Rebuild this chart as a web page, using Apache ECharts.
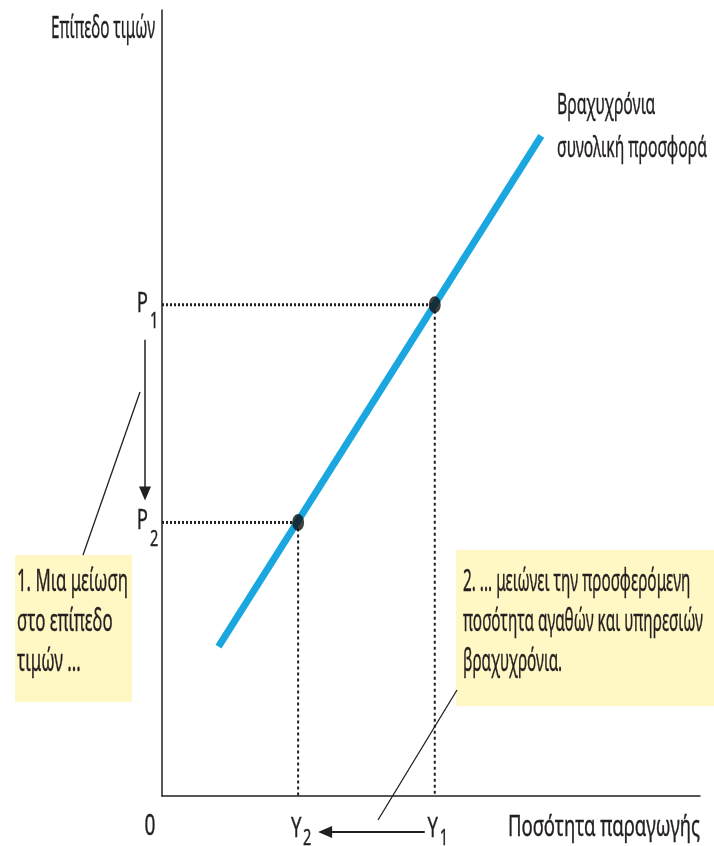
<!DOCTYPE html>
<html>
<head>
<meta charset="utf-8">
<script src="https://cdn.jsdelivr.net/npm/echarts@6/dist/echarts.min.js"></script>
<style>
  html, body { margin: 0; background: #fff; }
  #chart { width: 714px; height: 846px; }
</style>
</head>
<body>
<div id="chart"></div>
<script>
// supply curve end points (quantity, price)
const supplyQ = [10.5, 70.5]
const supplyP = [19, 84]
// equilibrium points: index 0 -> P1/Y1, index 1 -> P2/Y2
const outputLevels = [50.7, 25.3]
const priceLevels = [62.5, 34.8]
const tickSubs = ['1', '2']

const yTitle = 'Επίπεδο τιμών'
const xTitle = 'Ποσότητα παραγωγής'
const curveLabel = ['Βραχυχρόνια', 'συνολική προσφορά']
const note1 = ['1. Μια μείωση', 'στο επίπεδο', 'τιμών ...']
const note2 = ['2. ... μειώνει την προσφερόμενη', 'ποσότητα αγαθών και υπηρεσιών', 'βραχυχρόνια.']

const FONT = '"Noto Sans", sans-serif'
const INK = '#231f20'
const BLUE = '#1aa7e0'
const NOTE_BG = '#fff8c4'

const chart = echarts.init(document.getElementById('chart'))

const guides = []
priceLevels.forEach((p, i) => {
  guides.push({
    type: 'line', silent: true, symbol: 'none',
    data: [[0, p], [outputLevels[i], p]],
    lineStyle: { color: INK, width: 3, type: [2, 2] }
  })
  guides.push({
    type: 'line', silent: true, symbol: 'none',
    data: [[outputLevels[i], p], [outputLevels[i], 0]],
    lineStyle: { color: INK, width: 2, type: [3, 3] }
  })
})

chart.setOption({
  animation: false,
  grid: { left: 162, right: 14, top: 10, bottom: 50 },
  xAxis: {
    type: 'value', min: 0, max: 100,
    splitLine: { show: false },
    axisTick: { show: false },
    axisLabel: { show: false },
    axisLine: { lineStyle: { color: INK, width: 1.5 } }
  },
  yAxis: {
    type: 'value', min: 0, max: 100,
    splitLine: { show: false },
    axisTick: { show: false },
    axisLabel: { show: false },
    axisLine: { lineStyle: { color: INK, width: 1.5 } }
  },
  series: [
    ...guides,
    {
      type: 'line', silent: true, symbol: 'none', z: 3,
      data: supplyQ.map((q, i) => [q, supplyP[i]]),
      lineStyle: { color: BLUE, width: 7, cap: 'butt' }
    },
    {
      type: 'scatter', silent: true, z: 4,
      symbolSize: [12, 17],
      itemStyle: { color: '#111' },
      data: outputLevels.map((q, i) => [q, priceLevels[i]])
    }
  ]
})

// horizontal squeeze so the text keeps the condensed look of the original
const measureCtx = document.createElement('canvas').getContext('2d')
function fitScale(lines, size, width) {
  measureCtx.font = size + 'px "Noto Sans"'
  const w = Math.max(...lines.map(l => measureCtx.measureText(l).width))
  return width / w
}

function txt(text, x, y, size, scaleX, align, vAlign, lineHeight) {
  return {
    type: 'text', x: x, y: y, z: 10,
    scaleX: scaleX,
    style: {
      text: text,
      x: 0, y: 0,
      font: size + 'px ' + FONT,
      fill: INK,
      stroke: INK,
      lineWidth: 0.4,
      align: align,
      verticalAlign: vAlign,
      lineHeight: lineHeight || size
    }
  }
}

function textBlock(lines, x, y, size, width, align, lineHeight) {
  return txt(lines.join('\n'), x, y, size, fitScale(lines, size, width), align, 'top', lineHeight)
}

function arrowHead(tx, ty, dx, dy) {
  // dx, dy: unit direction of the arrow
  const len = 14, half = 6
  const bx = tx - dx * len, by = ty - dy * len
  return {
    type: 'polygon', z: 10,
    shape: { points: [[tx, ty], [bx - dy * half, by + dx * half], [bx + dy * half, by - dx * half]] },
    style: { fill: INK }
  }
}

function seg(x1, y1, x2, y2, w) {
  return {
    type: 'line', z: 10,
    shape: { x1: x1, y1: y1, x2: x2, y2: y2 },
    style: { stroke: INK, lineWidth: w || 1.5 }
  }
}

const toPx = v => chart.convertToPixel({ gridIndex: 0 }, v)
const origin = toPx([0, 0])
const pts = outputLevels.map((q, i) => toPx([q, priceLevels[i]]))

const labelY = origin[1] + 33
const TICK_SIZE = 28
const SUB_SIZE = 22
const TICK_SCALE = 0.66

// tick labels P1, P2 (left of the price axis) and Y1, Y2 (below the output axis)
const tickLabels = []
pts.forEach((p, i) => {
  tickLabels.push(txt('P', origin[0] - 14, p[1] - 1, TICK_SIZE, TICK_SCALE, 'right', 'middle'))
  tickLabels.push(txt(tickSubs[i], origin[0] - 12, p[1] + 17, SUB_SIZE, TICK_SCALE, 'left', 'middle'))
  tickLabels.push(txt('Y', p[0] - 2, labelY, TICK_SIZE, TICK_SCALE, 'center', 'middle'))
  tickLabels.push(txt(tickSubs[i], p[0] + 5, labelY + 10, SUB_SIZE, TICK_SCALE, 'left', 'middle'))
})

const arrowX = origin[0] - 17

chart.setOption({
  graphic: [
    textBlock([yTitle], 155, 9, 31, 104, 'right', 40),
    textBlock([xTitle], 700, labelY - 21, 29, 192, 'right', 40),
    textBlock(curveLabel, 557, 84, 29, 150, 'left', 43),
    txt('0', origin[0] - 12, labelY - 2, 29, TICK_SCALE, 'center', 'middle'),
    ...tickLabels,
    // price falls from P1 to P2
    seg(arrowX, pts[0][1] + 35, arrowX, pts[1][1] - 32),
    arrowHead(arrowX, pts[1][1] - 22, 0, 1),
    // output falls from Y1 to Y2
    seg(pts[0][0] - 10, labelY + 3, pts[1][0] + 28, labelY + 3, 2.2),
    arrowHead(pts[1][0] + 20, labelY + 3, -1, 0),
    // note boxes
    {
      type: 'rect', z: 8,
      shape: { x: 15, y: 555, width: 117, height: 147 },
      style: { fill: NOTE_BG }
    },
    textBlock(note1, 17, 562, 31, 111, 'left', 40),
    seg(140, 392, 83, 555, 1.3),
    {
      type: 'rect', z: 8,
      shape: { x: 456, y: 550, width: 258, height: 156 },
      style: { fill: NOTE_BG }
    },
    textBlock(note2, 463, 562, 31, 240, 'left', 40),
    seg(457, 690, 378, 820, 1.3)
  ]
})
</script>
</body>
</html>
